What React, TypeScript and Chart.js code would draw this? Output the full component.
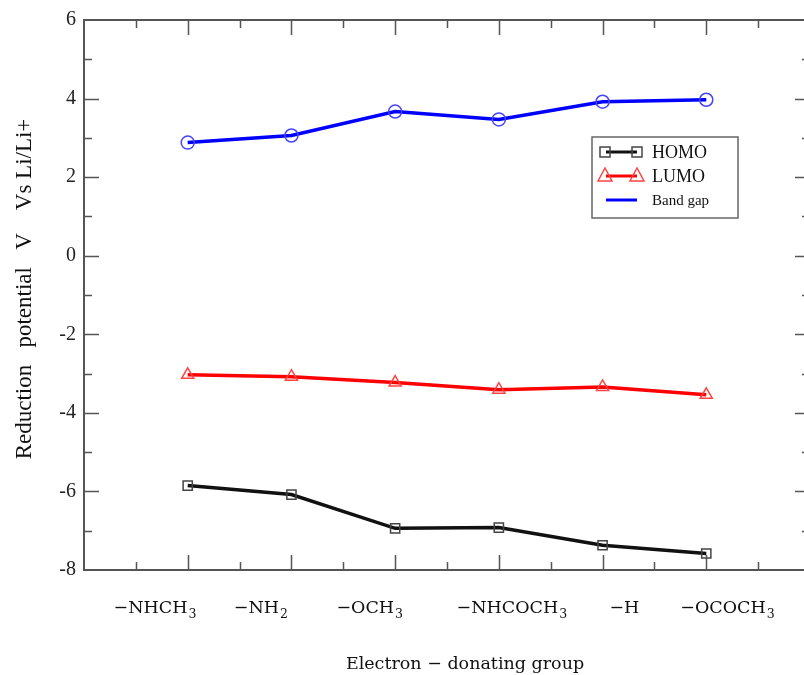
import React, { useEffect, useRef } from "react";
import { Chart, registerables } from "chart.js";

Chart.register(...registerables);

// Categories (subscript after "_")
const groups = ["−NHCH_3", "−NH_2", "−OCH_3", "−NHCOCH_3", "−H", "−OCOCH_3"];
// label anchor positions (x-axis units) where the group names were typeset
const groupLabelX = [0.68, 1.7, 2.75, 4.12, 5.21, 6.2];
const xPositions = [1, 2, 3, 4, 5, 6];

const homo = [-5.85, -6.08, -6.94, -6.92, -7.37, -7.58];
const lumo = [-3.03, -3.08, -3.23, -3.41, -3.34, -3.54];
const bandGap = [2.88, 3.06, 3.67, 3.47, 3.92, 3.97];

const yTicks = [6, 4, 2, 0, -2, -4, -6, -8];

const yTitle = "Reduction   potential   V    Vs Li/Li+";
const xTitle = "Electron − donating group";

const W = 830;
const H = 675;

const decorPlugin = {
  id: "decor",
  afterDraw(chart: any) {
    const { ctx, chartArea: a, scales } = chart;
    const xs = scales.x;
    const ys = scales.y;
    ctx.save();
    // frame
    ctx.strokeStyle = "#555";
    ctx.lineWidth = 2;
    ctx.strokeRect(a.left, a.top, a.right - a.left, a.bottom - a.top);
    // ticks
    ctx.lineWidth = 1.5;
    for (let v = 0.5; v < 7; v += 0.5) {
      const px = Math.round(xs.getPixelForValue(v)) + 0.5;
      const len = Number.isInteger(v) ? 15 : 8;
      ctx.beginPath();
      ctx.moveTo(px, a.bottom);
      ctx.lineTo(px, a.bottom - len);
      ctx.moveTo(px, a.top);
      ctx.lineTo(px, a.top + len);
      ctx.stroke();
    }
    for (let v = -7; v < 6; v += 1) {
      const py = Math.round(ys.getPixelForValue(v)) + 0.5;
      const len = v % 2 === 0 ? 15 : 8;
      ctx.beginPath();
      ctx.moveTo(a.left, py);
      ctx.lineTo(a.left + len, py);
      ctx.moveTo(a.right, py);
      ctx.lineTo(a.right - len, py);
      ctx.stroke();
    }
    // x group labels with subscripts
    ctx.fillStyle = "#111";
    ctx.textBaseline = "alphabetic";
    const base = a.bottom + 43;
    groups.forEach((g, i) => {
      const [main, sub] = g.split("_");
      ctx.font = '17.5px "DejaVu Serif"';
      const mw = ctx.measureText(main).width;
      ctx.font = '12.5px "DejaVu Serif"';
      const sw = sub ? ctx.measureText(sub).width : 0;
      const cx = xs.getPixelForValue(groupLabelX[i]);
      const x0 = cx - (mw + sw) / 2;
      ctx.textAlign = "left";
      ctx.font = '17.5px "DejaVu Serif"';
      ctx.fillText(main, x0, base);
      if (sub) {
        ctx.font = '12.5px "DejaVu Serif"';
        ctx.fillText(sub, x0 + mw + 1, base + 5);
      }
    });
    // x title
    ctx.font = '17.5px "DejaVu Serif"';
    ctx.textAlign = "center";
    ctx.fillText(xTitle, 465, base + 56);
    // y title
    ctx.save();
    ctx.translate(31, (a.top + a.bottom) / 2 - 6);
    ctx.rotate(-Math.PI / 2);
    ctx.font = '23px "Liberation Serif"';
    ctx.textAlign = "center";
    ctx.fillText(yTitle, 0, 0);
    ctx.restore();
    // legend
    const lx = 592, ly = 137, lw = 146, lh = 81;
    ctx.fillStyle = "#fff";
    ctx.fillRect(lx, ly, lw, lh);
    ctx.strokeStyle = "#666";
    ctx.lineWidth = 1.5;
    ctx.strokeRect(lx, ly, lw, lh);
    const items = chart.data.datasets;
    const rows = [152, 176, 200];
    items.forEach((ds: any, i: number) => {
      const y = rows[i];
      ctx.strokeStyle = ds.borderColor;
      ctx.lineWidth = 3;
      ctx.beginPath();
      ctx.moveTo(606, y);
      ctx.lineTo(637, y);
      ctx.stroke();
      if (i < 2) {
        ctx.strokeStyle = ds.pointBorderColor;
        ctx.lineWidth = 1.5;
        [605, 637].forEach((px) => {
          ctx.beginPath();
          if (i === 0) {
            ctx.rect(px - 5, y - 5, 10, 10);
          } else {
            ctx.moveTo(px - 7, y + 5);
            ctx.lineTo(px, y - 8);
            ctx.lineTo(px + 7, y + 5);
            ctx.closePath();
          }
          ctx.stroke();
        });
      }
      ctx.fillStyle = "#111";
      ctx.textAlign = "left";
      ctx.textBaseline = "middle";
      ctx.font = i === 2 ? '15px "Liberation Serif"' : '18px "Liberation Serif"';
      ctx.fillText(ds.label, 652, y + 1);
    });
    ctx.restore();
  },
};

export default function App() {
  const ref = useRef<HTMLCanvasElement>(null);
  useEffect(() => {
    if (!ref.current) return;
    const mk = (vals: number[]) => vals.map((v, i) => ({ x: xPositions[i], y: v }));
    const chart = new Chart(ref.current, {
      type: "line",
      data: {
        datasets: [
          {
            label: "HOMO",
            data: mk(homo),
            borderColor: "#111",
            borderWidth: 3.5,
            pointStyle: "rect",
            pointRadius: 6.5,
            pointBorderColor: "#444",
            pointBackgroundColor: "rgba(255,255,255,0)",
            pointBorderWidth: 1.5,
          },
          {
            label: "LUMO",
            data: mk(lumo),
            borderColor: "#ff0000",
            borderWidth: 3.5,
            pointStyle: "triangle",
            pointRadius: 7,
            pointBorderColor: "#ff4444",
            pointBackgroundColor: "rgba(255,255,255,0)",
            pointBorderWidth: 1.5,
          },
          {
            label: "Band gap",
            data: mk(bandGap),
            borderColor: "#0000ff",
            borderWidth: 3.5,
            pointStyle: "circle",
            pointRadius: 6.5,
            pointBorderColor: "#4444ff",
            pointBackgroundColor: "rgba(255,255,255,0)",
            pointBorderWidth: 1.5,
          },
        ],
      },
      options: {
        responsive: false,
        animation: false,
        layout: { padding: { left: 0, top: 18, right: W - 810, bottom: H - 570 } },
        plugins: { legend: { display: false }, tooltip: { enabled: false } },
        scales: {
          x: { type: "linear", min: 0, max: 7, display: false },
          y: {
            min: -8,
            max: 6,
            afterFit: (s: any) => {
              s.width = 84;
            },
            afterBuildTicks: (s: any) => {
              s.ticks = yTicks.map((v) => ({ value: v }));
            },
            grid: { display: false, drawTicks: false },
            border: { display: false },
            ticks: {
              padding: 8,
              color: "#222",
              font: { family: "Liberation Serif", size: 20 },
            },
          },
        },
      },
      plugins: [decorPlugin],
    });
    return () => chart.destroy();
  }, []);
  return (
    <div style={{ position: "fixed", left: 0, top: 0, width: 804, height: 675, overflow: "hidden", background: "#fff" }}>
      <canvas ref={ref} width={W} height={H} style={{ display: "block" }} />
    </div>
  );
}
